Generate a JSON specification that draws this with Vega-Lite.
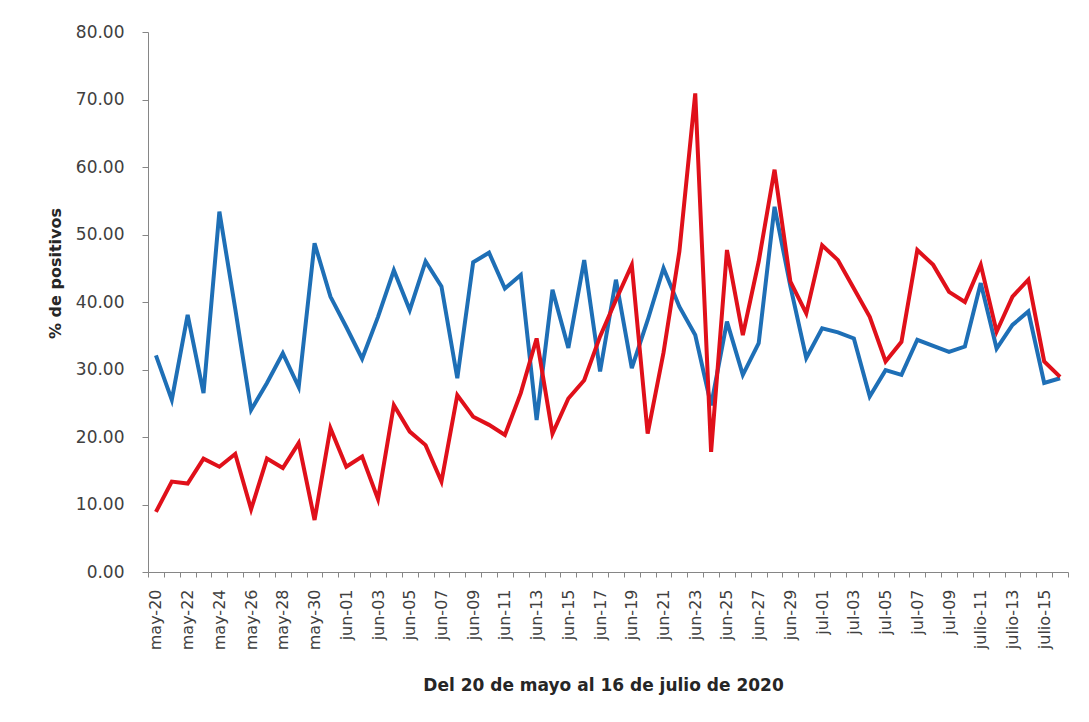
{
  "$schema": "https://vega.github.io/schema/vega-lite/v6.json",
  "autosize": {"type": "none"},
  "width": 920,
  "height": 540,
  "padding": {"left": 148, "top": 32, "right": 21, "bottom": 150},
  "background": "white",
  "config": {"view": {"stroke": null}},
  "data": {"values": [
    {"fecha": "may-20", "azul": 32.1, "rojo": 8.9},
    {"fecha": "may-21", "azul": 25.5, "rojo": 13.4},
    {"fecha": "may-22", "azul": 38.1, "rojo": 13.1},
    {"fecha": "may-23", "azul": 26.5, "rojo": 16.8},
    {"fecha": "may-24", "azul": 53.4, "rojo": 15.6},
    {"fecha": "may-25", "azul": 39.0, "rojo": 17.5},
    {"fecha": "may-26", "azul": 24.0, "rojo": 9.3},
    {"fecha": "may-27", "azul": 28.0, "rojo": 16.8},
    {"fecha": "may-28", "azul": 32.4, "rojo": 15.4},
    {"fecha": "may-29", "azul": 27.4, "rojo": 19.1},
    {"fecha": "may-30", "azul": 48.7, "rojo": 7.7},
    {"fecha": "may-31", "azul": 40.8, "rojo": 21.3},
    {"fecha": "jun-01", "azul": 36.3, "rojo": 15.6},
    {"fecha": "jun-02", "azul": 31.6, "rojo": 17.1},
    {"fecha": "jun-03", "azul": 37.8, "rojo": 10.8},
    {"fecha": "jun-04", "azul": 44.7, "rojo": 24.7},
    {"fecha": "jun-05", "azul": 38.8, "rojo": 20.8},
    {"fecha": "jun-06", "azul": 46.0, "rojo": 18.8},
    {"fecha": "jun-07", "azul": 42.3, "rojo": 13.4},
    {"fecha": "jun-08", "azul": 28.7, "rojo": 26.2},
    {"fecha": "jun-09", "azul": 45.9, "rojo": 23.0},
    {"fecha": "jun-10", "azul": 47.3, "rojo": 21.8},
    {"fecha": "jun-11", "azul": 42.0, "rojo": 20.3},
    {"fecha": "jun-12", "azul": 44.0, "rojo": 26.5},
    {"fecha": "jun-13", "azul": 22.5, "rojo": 34.6},
    {"fecha": "jun-14", "azul": 41.8, "rojo": 20.5},
    {"fecha": "jun-15", "azul": 33.2, "rojo": 25.7},
    {"fecha": "jun-16", "azul": 46.2, "rojo": 28.4},
    {"fecha": "jun-17", "azul": 29.7, "rojo": 34.9},
    {"fecha": "jun-18", "azul": 43.3, "rojo": 40.3},
    {"fecha": "jun-19", "azul": 30.2, "rojo": 45.5},
    {"fecha": "jun-20", "azul": 37.3, "rojo": 20.5},
    {"fecha": "jun-21", "azul": 45.0, "rojo": 32.5},
    {"fecha": "jun-22", "azul": 39.3, "rojo": 47.5},
    {"fecha": "jun-23", "azul": 35.1, "rojo": 70.9},
    {"fecha": "jun-24", "azul": 24.7, "rojo": 17.8},
    {"fecha": "jun-25", "azul": 37.1, "rojo": 47.7},
    {"fecha": "jun-26", "azul": 29.2, "rojo": 35.1},
    {"fecha": "jun-27", "azul": 33.9, "rojo": 46.0},
    {"fecha": "jun-28", "azul": 54.1, "rojo": 59.6},
    {"fecha": "jun-29", "azul": 42.3, "rojo": 43.0},
    {"fecha": "jun-30", "azul": 31.7, "rojo": 38.3},
    {"fecha": "jul-01", "azul": 36.1, "rojo": 48.4},
    {"fecha": "jul-02", "azul": 35.5, "rojo": 46.2},
    {"fecha": "jul-03", "azul": 34.6, "rojo": 42.0},
    {"fecha": "jul-04", "azul": 26.0, "rojo": 37.8},
    {"fecha": "jul-05", "azul": 29.9, "rojo": 31.2},
    {"fecha": "jul-06", "azul": 29.2, "rojo": 34.1},
    {"fecha": "jul-07", "azul": 34.4, "rojo": 47.7},
    {"fecha": "jul-08", "azul": 33.5, "rojo": 45.5},
    {"fecha": "jul-09", "azul": 32.6, "rojo": 41.5},
    {"fecha": "jul-10", "azul": 33.4, "rojo": 40.0},
    {"fecha": "julio-11", "azul": 42.8, "rojo": 45.5},
    {"fecha": "julio-12", "azul": 33.1, "rojo": 35.6},
    {"fecha": "julio-13", "azul": 36.6, "rojo": 40.8},
    {"fecha": "julio-14", "azul": 38.6, "rojo": 43.3},
    {"fecha": "julio-15", "azul": 28.0, "rojo": 31.2},
    {"fecha": "julio-16", "azul": 28.7, "rojo": 28.9}
  ]},
  "encoding": {
    "x": {
      "field": "fecha", "type": "ordinal", "sort": null,
      "scale": {"type": "band", "paddingInner": 0, "paddingOuter": 0},
      "axis": {
        "labelAngle": -90,
        "labelExpr": "round(datum.index * 57) % 2 == 0 ? datum.label : ''",
        "tickBand": "extent",
        "tickSize": 5,
        "tickColor": "#868686",
        "domainColor": "#868686",
        "labelColor": "#404040",
        "labelFont": "DejaVu Sans",
        "labelFontSize": 16,
        "labelPadding": 12,
        "grid": false,
        "title": "Del 20 de mayo al 16 de julio de 2020",
        "titleFont": "DejaVu Sans",
        "titleFontSize": 17,
        "titleFontWeight": "bold",
        "titleColor": "#262626",
        "titleX": 455,
        "titleY": 113,
        "titleAlign": "center",
        "titleBaseline": "middle"
      }
    }
  },
  "layer": [
    {
      "mark": {"type": "line", "color": "#1E6FB6", "strokeWidth": 4},
      "encoding": {
        "y": {
          "field": "azul", "type": "quantitative",
          "scale": {"domain": [0, 80], "nice": false},
          "axis": {
            "values": [0, 10, 20, 30, 40, 50, 60, 70, 80],
            "format": ".2f",
            "tickSize": 6,
            "tickColor": "#868686",
            "domainColor": "#868686",
            "labelColor": "#404040",
            "labelFont": "DejaVu Sans",
            "labelFontSize": 17,
            "labelPadding": 18,
            "grid": false,
            "title": "% de positivos",
            "titleFont": "DejaVu Sans",
            "titleFontSize": 16,
            "titleFontWeight": "bold",
            "titleColor": "#262626",
            "titleX": -93,
            "titleY": 241,
            "titleAngle": -90,
            "titleAlign": "center",
            "titleBaseline": "middle"
          }
        }
      }
    },
    {
      "mark": {"type": "line", "color": "#E0101A", "strokeWidth": 4},
      "encoding": {"y": {"field": "rojo", "type": "quantitative"}}
    }
  ]
}
